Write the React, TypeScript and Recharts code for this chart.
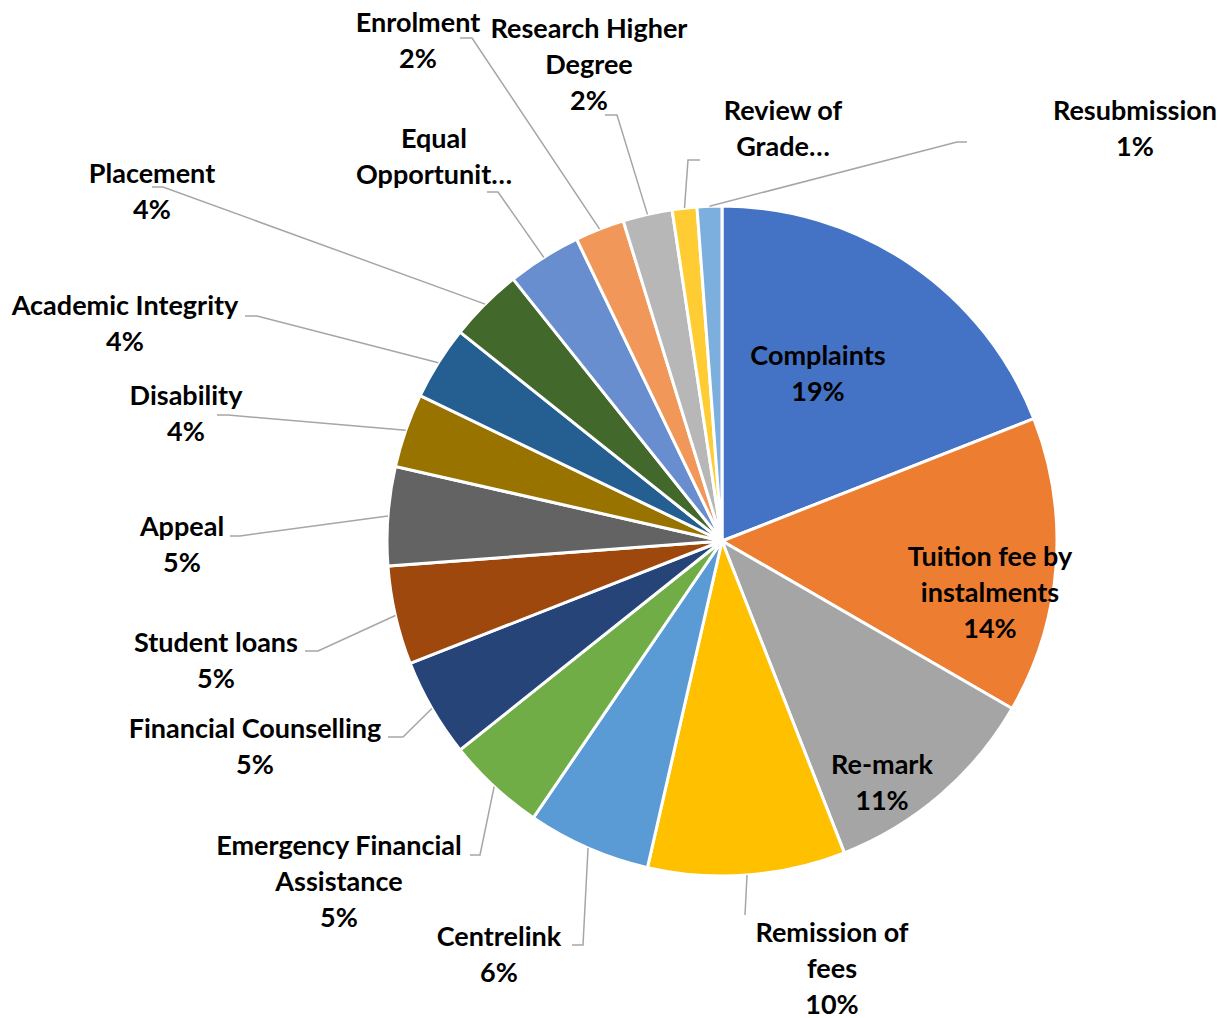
import { PieChart, Pie, Cell } from 'recharts'

const categories = [
  'Complaints',
  'Tuition fee by instalments',
  'Re-mark',
  'Remission of fees',
  'Centrelink',
  'Emergency Financial Assistance',
  'Financial Counselling',
  'Student loans',
  'Appeal',
  'Disability',
  'Academic Integrity',
  'Placement',
  'Equal Opportunit…',
  'Enrolment',
  'Research Higher Degree',
  'Review of Grade…',
  'Resubmission',
]

const counts = [16, 12, 9, 8, 5, 4, 4, 4, 4, 3, 3, 3, 3, 2, 2, 1, 1]

const colors = [
  '#4472C4', '#ED7D31', '#A5A5A5', '#FFC000', '#5B9BD5', '#70AD47',
  '#264478', '#9E480E', '#636363', '#997300', '#255E91', '#43682B',
  '#698ED0', '#F1975A', '#B7B7B7', '#FFCD33', '#7CAFDD',
]

// label placement, offsets from the pie centre (text centre x, first baseline y)
// words: words per line, elbow/end: leader line bend and end point
type LabelLayout = {
  dx: number
  dy: number
  words?: number[]
  hidePct?: boolean
  elbow?: [number, number]
  end?: [number, number]
}

const labelLayout: LabelLayout[] = [
  { dx: 96, dy: -176 },
  { dx: 268, dy: 25, words: [3, 1] },
  { dx: 160, dy: 233 },
  { dx: 110, dy: 401, words: [2, 1], elbow: [23, 374], end: [23, 374] },
  { dx: -223, dy: 405, elbow: [-139, 404], end: [-150, 404] },
  { dx: -383, dy: 314, words: [2, 1], elbow: [-242, 314], end: [-252, 314] },
  { dx: -467, dy: 197, elbow: [-319, 196], end: [-334, 196] },
  { dx: -506, dy: 111, elbow: [-404, 110], end: [-417, 110] },
  { dx: -540, dy: -5, elbow: [-482, -5], end: [-492, -5] },
  { dx: -536, dy: -136, elbow: [-494, -126], end: [-505, -126] },
  { dx: -597, dy: -226, elbow: [-465, -225], end: [-477, -225] },
  { dx: -570, dy: -358, elbow: [-559, -354], end: [-570, -354] },
  { dx: -288, dy: -393, words: [1, 1], hidePct: true, elbow: [-224, -349], end: [-235, -349] },
  { dx: -304, dy: -509, elbow: [-250, -503], end: [-262, -503] },
  { dx: -133, dy: -503, words: [2, 1], elbow: [-105, -426], end: [-117, -426] },
  { dx: 61, dy: -421, words: [2, 1], hidePct: true, elbow: [-34, -381], end: [-22, -381] },
  { dx: 413, dy: -421, elbow: [235, -399], end: [245, -399] },
]

const data = categories.map((name, i) => ({ name, value: counts[i] }))

const RAD = Math.PI / 180
const LINE_H = 36

function splitLines(name: string, words?: number[]) {
  if (!words) return [name]
  const parts = name.split(' ')
  const lines: string[] = []
  let k = 0
  for (const n of words) {
    lines.push(parts.slice(k, k + n).join(' '))
    k += n
  }
  return lines
}

function renderLabel(props: any) {
  const { cx, cy, midAngle, outerRadius, index, percent, name } = props
  const lay = labelLayout[index]
  const lines = splitLines(name, lay.words)
  if (!lay.hidePct) lines.push(`${Math.round(percent * 100)}%`)
  const x = cx + lay.dx
  const y = cy + lay.dy
  let leader = null
  if (lay.elbow && lay.end) {
    const sx = cx + outerRadius * Math.cos(-midAngle * RAD)
    const sy = cy + outerRadius * Math.sin(-midAngle * RAD)
    const pts = `${sx},${sy} ${cx + lay.elbow[0]},${cy + lay.elbow[1]} ${cx + lay.end[0]},${cy + lay.end[1]}`
    leader = <polyline points={pts} fill="none" stroke="#A6A6A6" strokeWidth={1.5} />
  }
  return (
    <g key={`lbl-${index}`}>
      {leader}
      <text x={x} y={y} textAnchor="middle" fill="#000" fontFamily="Lato" fontWeight={700} fontSize={27}>
        {lines.map((l, j) => (
          <tspan key={j} x={x} y={y + j * LINE_H}>{l}</tspan>
        ))}
      </text>
    </g>
  )
}

export default function App() {
  return (
    <div style={{ width: 1227, height: 1018, background: '#fff', overflow: 'hidden' }}>
      <style>{`body{margin:0}`}</style>
      <PieChart width={1227} height={1018} margin={{ top: 0, right: 0, bottom: 0, left: 0 }}>
        <Pie
          data={data}
          dataKey="value"
          nameKey="name"
          cx={722}
          cy={541}
          outerRadius={335}
          startAngle={90}
          endAngle={-270}
          stroke="#fff"
          strokeWidth={3}
          label={renderLabel}
          labelLine={false}
          isAnimationActive={false}
        >
          {data.map((d, i) => (
            <Cell key={d.name} fill={colors[i]} />
          ))}
        </Pie>
      </PieChart>
    </div>
  )
}
